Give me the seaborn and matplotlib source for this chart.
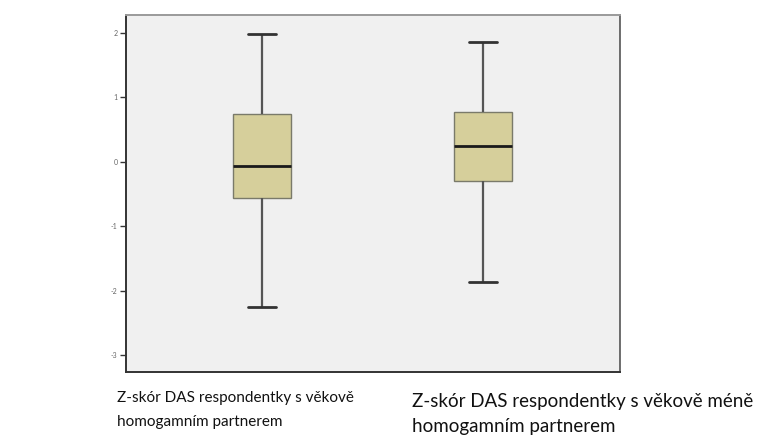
import numpy as np
import pandas as pd
import matplotlib
matplotlib.use("Agg")
import matplotlib.pyplot as plt
import seaborn as sns

# Category captions
categories = [
    "Z-skór DAS respondentky s věkově\nhomogamním partnerem",
    "Z-skór DAS respondentky s věkově méně\nhomogamním partnerem",
]
group_keys = ["A", "B"]
# five-number summaries: low whisker, Q1, median, Q3, high whisker
stats_a = [-2.25, -0.56, -0.06, 0.75, 1.98]
stats_b = [-1.86, -0.30, 0.25, 0.78, 1.86]
ytick_values = [2, 1, 0, -1, -2, -3]
ytick_labels = ["2", "1", "0", "-1", "-2", "-3"]

df = pd.DataFrame({
    "group": [group_keys[0]] * len(stats_a) + [group_keys[1]] * len(stats_b),
    "value": stats_a + stats_b,
})

sns.set_theme(style="white")
plt.rcParams['font.family'] = ['Lato', 'DejaVu Sans']

fig = plt.figure(figsize=(7.69, 4.40), dpi=100)
ax = fig.add_axes([126/769, 1 - 372/440, (620-126)/769, (372-15)/440])
ax.set_facecolor("#f0f0f0")

sns.boxplot(
    data=df, x="group", y="value", order=group_keys, ax=ax,
    width=0.26, whis=(0, 100), color="#d6cf9b", saturation=1,
    linecolor="#555555", linewidth=1.0,
    boxprops=dict(facecolor="#d6cf9b", edgecolor="#7a7a6a", linewidth=1.0),
    whiskerprops=dict(color="#555555", linewidth=1.6),
    capprops=dict(color="#333333", linewidth=2.0),
    medianprops=dict(color="#1a1a1a", linewidth=2.0),
    fliersize=0,
)

ax.set_xlim(-0.615, 1.62)
ax.set_ylim(-3.26, 2.28)
ax.set_yticks(ytick_values)
ax.set_yticklabels(ytick_labels, fontsize=5, color="#666666")
ax.set_xticks([])
ax.set_xlabel("")
ax.set_ylabel("")
ax.tick_params(axis="y", left=True, length=4, width=1, color="#333333", pad=2)

for side, col, lw in [("left", "#333333", 1.4), ("bottom", "#333333", 1.4),
                      ("top", "#9a9a9a", 1.4), ("right", "#555555", 1.2)]:
    ax.spines[side].set_visible(True)
    ax.spines[side].set_color(col)
    ax.spines[side].set_linewidth(lw)

fig.text(117/769, 1 - 391/440, categories[0], ha="left", va="top",
         fontsize=11, color="#111111", linespacing=1.95)
fig.text(412/769, 1 - 393/440, categories[1], ha="left", va="top",
         fontsize=13.5, color="#111111", linespacing=1.56)

fig.savefig("out.png", dpi=100, facecolor="white")
